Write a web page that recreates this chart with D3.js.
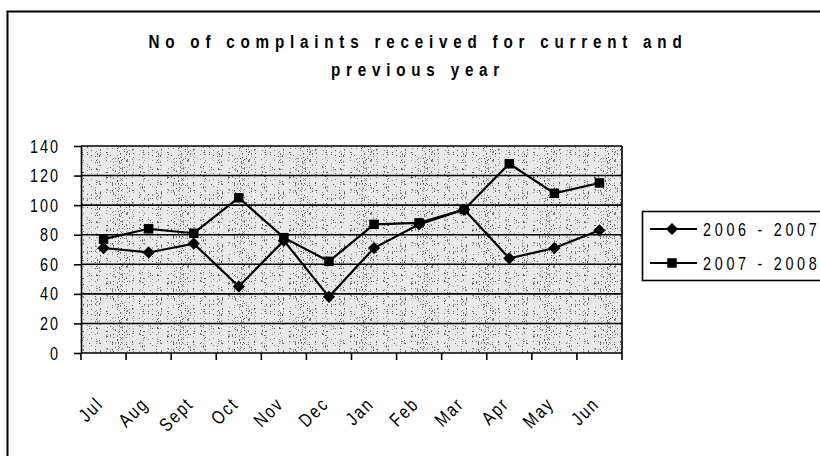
<!DOCTYPE html>
<meta charset="utf-8">
<style>
    body {
        margin: 0;
        padding: 0;
        background: #fff;
    }

    svg {
        display: block;
        font-family: "Liberation Sans", Arial, sans-serif;
    }

    .grid line {
        stroke: #000;
        stroke-width: 1.6px;
    }

    .series path.ln {
        fill: none;
        stroke: #000;
        stroke-width: 2.2px;
    }
</style>
<svg width="820" height="456"></svg>
<script src="https://d3js.org/d3.v7.min.js"></script>
<script>
    var months = ["Jul", "Aug", "Sept", "Oct", "Nov", "Dec", "Jan", "Feb", "Mar", "Apr", "May", "Jun"];
    var y2006 = [71, 68, 74, 45, 76, 38, 71, 87, 97, 64, 71, 83];
    var y2007 = [77, 84, 81, 105, 78, 62, 87, 88, 97, 128, 108, 115];
    var seriesNames = ["2006 - 2007", "2007 - 2008"];
    var yTicks = [0, 20, 40, 60, 80, 100, 120, 140];

    var svg = d3.select("svg");

    var pLeft = 81, pRight = 622, pTop = 146, pBottom = 353;
    var squeeze = 0.8; // narrow look of the original font

    var x = d3.scaleBand().domain(months).range([pLeft, pRight]);
    var y = d3.scaleLinear().domain([0, 140]).range([pBottom, pTop]);

    // narrow text: a group that is squeezed horizontally
    function narrowText(parent, tx, ty, rot, str, size, spacing, anchor, weight) {
        var g = parent.append("g")
            .attr("transform", "translate(" + tx + "," + ty + ")" + (rot ? " rotate(" + rot + ")" : "") + " scale(" + squeeze + ",1)");
        return g.append("text")
            .attr("text-anchor", anchor || "start")
            .style("font-size", size + "px")
            .style("font-weight", weight || "normal")
            .style("letter-spacing", (spacing / squeeze) + "px")
            .text(str);
    }

    // stipple pattern for the plot background (scattered dots on a tile)
    var tw = 61, th = 53;
    var defs = svg.append("defs");
    var pat = defs.append("pattern")
        .attr("id", "stipple")
        .attr("patternUnits", "userSpaceOnUse")
        .attr("width", tw)
        .attr("height", th);
    pat.append("rect").attr("width", tw).attr("height", th).attr("fill", "#e9e9e9");
    for (var i = 0; i < 330; i++) {
        pat.append("rect")
            .attr("x", (i * i * 7 + i * 3) % tw)
            .attr("y", (i * 13 + i * i * 5 + Math.floor(i / 7)) % th)
            .attr("width", 1).attr("height", 1)
            .attr("fill", i % 3 ? "#8c8c8c" : "#5a5a5a");
    }

    // outer chart border
    svg.append("path")
        .attr("d", "M7.5,460 L7.5,11.5 L830,11.5")
        .attr("fill", "none")
        .attr("stroke", "#000")
        .attr("stroke-width", 2);

    // title
    narrowText(svg, 418, 48, 0, "No of complaints received for current and", 19, 5.8, "middle", "bold");
    narrowText(svg, 418, 76, 0, "previous year", 19, 5.8, "middle", "bold");

    // plot background
    svg.append("rect")
        .attr("x", pLeft).attr("y", pTop)
        .attr("width", pRight - pLeft).attr("height", pBottom - pTop)
        .attr("fill", "url(#stipple)");

    // gridlines
    svg.append("g")
        .attr("class", "grid")
        .selectAll("line")
        .data(yTicks.slice(1))
        .enter().append("line")
        .attr("x1", pLeft).attr("x2", pRight)
        .attr("y1", function(d) { return y(d); })
        .attr("y2", function(d) { return y(d); });

    svg.append("line")
        .attr("x1", pRight).attr("x2", pRight)
        .attr("y1", pTop).attr("y2", pBottom)
        .attr("stroke", "#000").attr("stroke-width", 1.6);

    // y axis (ticks from the scale, labels drawn narrow)
    var yAxis = svg.append("g")
        .attr("transform", "translate(" + pLeft + ",0)")
        .call(d3.axisLeft(y).tickValues(yTicks).tickSize(7).tickSizeOuter(0).tickFormat(""));
    yAxis.selectAll("path, line").attr("stroke", "#000").attr("stroke-width", 1.6);
    yTicks.forEach(function(t) {
        narrowText(svg, 60, y(t) + 6.5, 0, String(t), 18, 2, "end");
    });

    // x axis, ticks between categories
    var xAxis = svg.append("g")
        .attr("transform", "translate(0," + pBottom + ")");
    xAxis.append("line")
        .attr("x1", pLeft).attr("x2", pRight)
        .attr("stroke", "#000").attr("stroke-width", 1.6);
    xAxis.selectAll(".tk")
        .data(months.concat(["end"]))
        .enter().append("line")
        .attr("x1", function(d, i) { return i < months.length ? x(d) : pRight; })
        .attr("x2", function(d, i) { return i < months.length ? x(d) : pRight; })
        .attr("y1", 0).attr("y2", 7)
        .attr("stroke", "#000").attr("stroke-width", 1.6);
    months.forEach(function(m) {
        narrowText(xAxis, x(m) + x.bandwidth() / 2 + 1, 52, -45, m, 19, 2, "end");
    });

    // series
    var line = d3.line()
        .x(function(d, i) { return x(months[i]) + x.bandwidth() / 2; })
        .y(function(d) { return y(d); });

    var diamond = d3.symbol().type(d3.symbolDiamond2).size(95);
    var square = d3.symbol().type(d3.symbolSquare).size(90);

    var series = svg.append("g").attr("class", "series");
    [y2006, y2007].forEach(function(vals, k) {
        series.append("path").attr("class", "ln").attr("d", line(vals));
        series.selectAll(".m" + k)
            .data(vals)
            .enter().append("path")
            .attr("class", "m" + k)
            .attr("transform", function(d, i) {
                return "translate(" + (x(months[i]) + x.bandwidth() / 2) + "," + y(d) + ")";
            })
            .attr("d", k === 0 ? diamond() : square())
            .attr("fill", "#000");
    });

    // legend
    var legend = svg.append("g");
    legend.append("rect")
        .attr("x", 642.5).attr("y", 211.5)
        .attr("width", 200).attr("height", 69)
        .attr("fill", "#fff")
        .attr("stroke", "#000").attr("stroke-width", 1.6);
    seriesNames.forEach(function(name, k) {
        var cy = 229 + k * 34;
        legend.append("line")
            .attr("x1", 650).attr("x2", 697)
            .attr("y1", cy).attr("y2", cy)
            .attr("stroke", "#000").attr("stroke-width", 2);
        legend.append("path")
            .attr("transform", "translate(672," + cy + ")")
            .attr("d", k === 0 ? diamond() : square())
            .attr("fill", "#000");
        narrowText(legend, 703, cy + 6.5, 0, name, 18, 3.7, "start");
    });
</script>
